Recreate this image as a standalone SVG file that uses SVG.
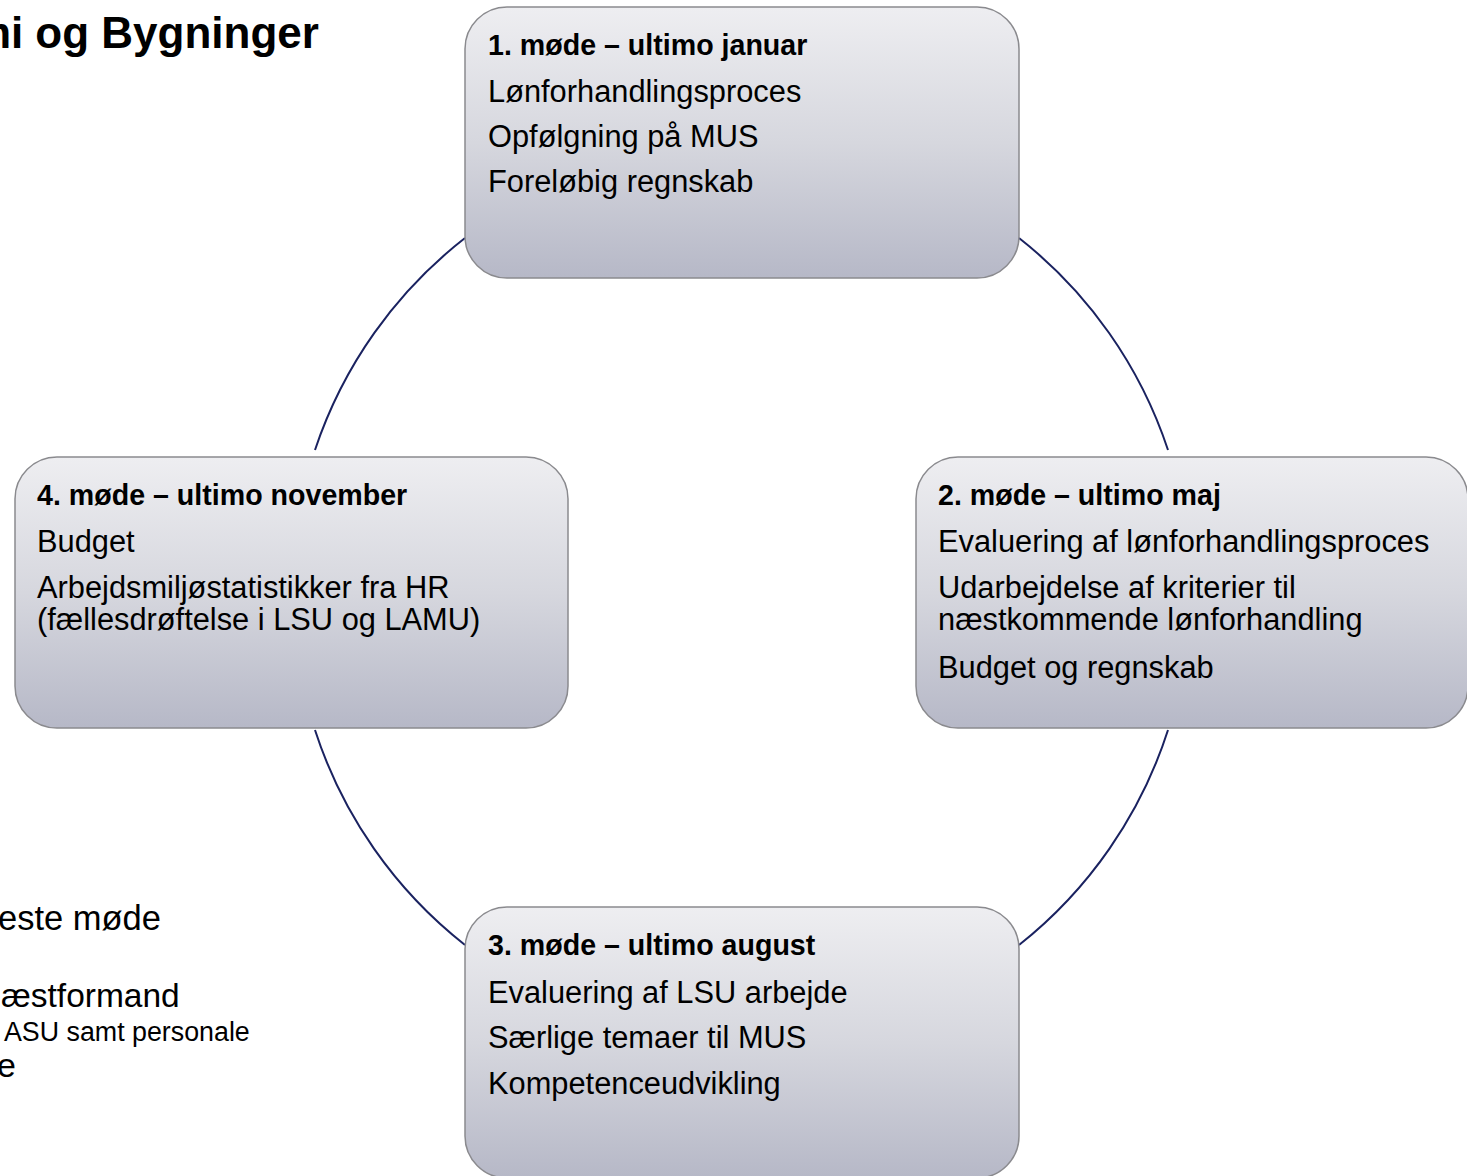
<svg xmlns="http://www.w3.org/2000/svg" width="1467" height="1176" viewBox="0 0 1467 1176">
<defs>
<linearGradient id="boxfill" x1="0" y1="0" x2="0" y2="1">
<stop offset="0" stop-color="#eeeef1"/>
<stop offset="0.5" stop-color="#d6d7de"/>
<stop offset="1" stop-color="#b6b8c7"/>
</linearGradient>
</defs>
<style>
.box{fill:url(#boxfill);stroke:#8a8a8e;stroke-width:1.5}
.hd{font-family:"Liberation Sans",Arial,sans-serif;font-weight:bold;font-size:28.6px;fill:#000}
.tx{font-family:"Liberation Sans",Arial,sans-serif;font-size:30.8px;fill:#000}
.arc{fill:none;stroke:#1a2260;stroke-width:2}
.side{font-family:"Liberation Sans",Arial,sans-serif;fill:#000}
</style>
<rect width="1467" height="1176" fill="#fff"/>
<text class="side" x="-28" y="48" font-size="44" font-weight="bold">mi<tspan dx="12">og Bygninger</tspan></text>
<text class="side" x="-2" y="930" font-size="34.5">este møde</text>
<text class="side" x="1" y="1007" font-size="33.5">æstformand</text>
<text class="side" x="4" y="1041" font-size="26.8">ASU samt personale</text>
<text class="side" x="-3" y="1077" font-size="34">e</text>
<g id="connectors">
<path class="arc" d="M465 238 A449 449 0 0 0 315 450"/>
<path class="arc" d="M1019 238 A449 449 0 0 1 1168 450"/>
<path class="arc" d="M1168 730 A449 449 0 0 1 1019 945"/>
<path class="arc" d="M465 945 A449 449 0 0 1 315 730"/>
</g>
<g id="node1">
<rect class="box" x="465" y="7" width="554" height="271" rx="42"/>
<text class="hd" x="488" y="55">1. møde – ultimo januar</text>
<text class="tx" x="488" y="102">Lønforhandlingsproces</text>
<text class="tx" x="488" y="147">Opfølgning på MUS</text>
<text class="tx" x="488" y="192">Foreløbig regnskab</text>
</g>
<g id="node2">
<rect class="box" x="916" y="457" width="552" height="271" rx="42"/>
<text class="hd" x="938" y="505">2. møde – ultimo maj</text>
<text class="tx" x="938" y="552">Evaluering af lønforhandlingsproces</text>
<text class="tx" x="938" y="598">Udarbejdelse af kriterier til</text>
<text class="tx" x="938" y="630">næstkommende lønforhandling</text>
<text class="tx" x="938" y="678">Budget og regnskab</text>
</g>
<g id="node3">
<rect class="box" x="465" y="907" width="554" height="271" rx="42"/>
<text class="hd" x="488" y="955">3. møde – ultimo august</text>
<text class="tx" x="488" y="1003">Evaluering af LSU arbejde</text>
<text class="tx" x="488" y="1048">Særlige temaer til MUS</text>
<text class="tx" x="488" y="1094">Kompetenceudvikling</text>
</g>
<g id="node4">
<rect class="box" x="15" y="457" width="553" height="271" rx="42"/>
<text class="hd" x="37" y="505">4. møde – ultimo november</text>
<text class="tx" x="37" y="552">Budget</text>
<text class="tx" x="37" y="598">Arbejdsmiljøstatistikker fra HR</text>
<text class="tx" x="37" y="630">(fællesdrøftelse i LSU og LAMU)</text>
</g>
</svg>
